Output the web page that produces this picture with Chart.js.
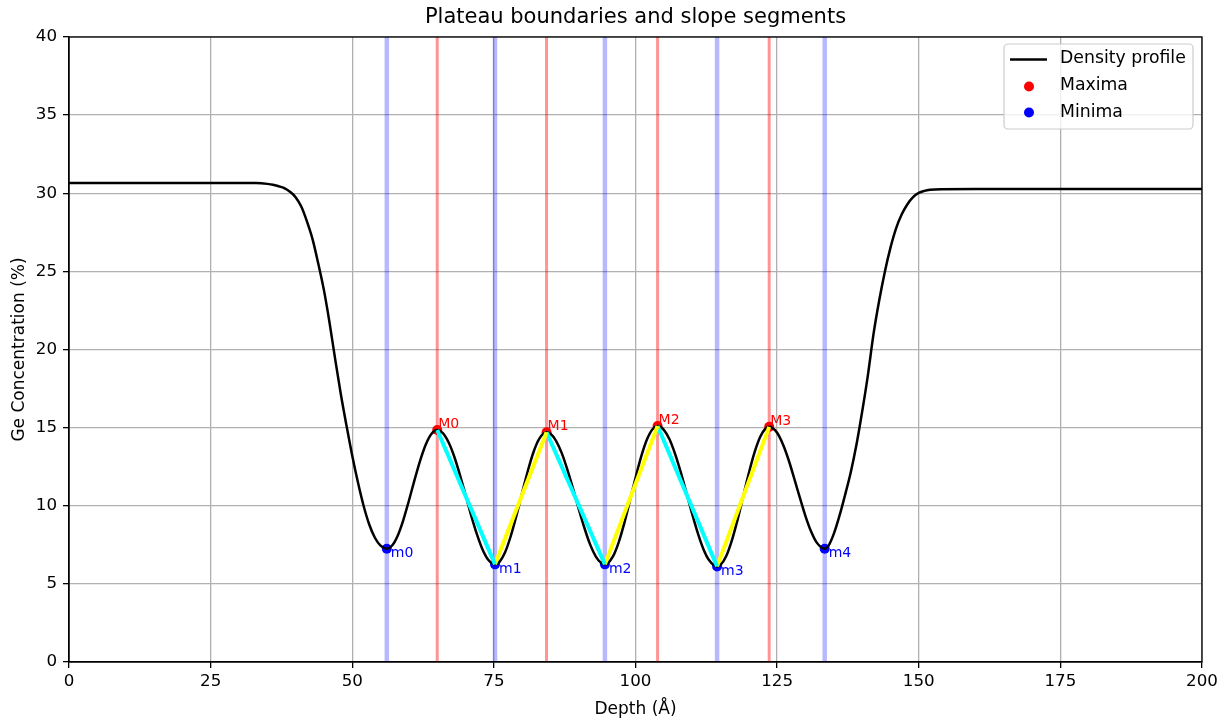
<!DOCTYPE html>
<html lang="en">
<head>
<meta charset="UTF-8">
<title>Plateau boundaries and slope segments</title>
<style>
  body { margin: 0; background: #fff; }
  canvas { display: block; }
</style>
</head>
<body>
<canvas id="chart" width="1231" height="722" style="width:1231px;height:722px"></canvas>
<script src="https://cdn.jsdelivr.net/npm/chart.js"></script>
<script>
  // Density profile (depth in Å, Ge %)
  const depth = [0, 10, 20, 30, 33, 35, 36, 37, 38, 39, 40, 41, 42, 43, 44, 45, 46, 47, 48, 49, 50,
    51, 52, 53, 54, 55, 56.1, 57, 58, 59, 60, 61, 62, 63, 64, 65, 66, 67, 68, 69, 70,
    71, 72, 73, 74, 75.2, 76, 77, 78, 79, 80, 81, 82, 83, 84.3, 85, 86, 87, 88, 89, 90,
    91, 92, 93, 94, 94.6, 95, 96, 97, 98, 99, 100, 101, 102, 103, 103.9, 105, 106, 107, 108, 109, 110,
    111, 112, 113, 114.4, 115, 116, 117, 118, 119, 120, 121, 122, 123, 123.6, 124, 125, 126, 127, 128, 129, 130,
    131, 132, 133.4, 134, 135, 136, 137, 138, 139, 140, 141, 142, 143, 144, 145, 146, 147, 148, 149, 150,
    151, 152, 154, 160, 200];
  const concentration = [30.66, 30.66, 30.66, 30.66, 30.65, 30.6, 30.55, 30.45, 30.33, 30.1, 29.75, 29.15, 28.2, 27.05, 25.5, 23.8, 21.7, 19.35, 17.1, 15.1, 13.2,
    11.5, 10.0, 8.8, 7.95, 7.45, 7.25, 7.44, 8.07, 9.07, 10.32, 11.66, 12.91, 13.94, 14.61, 14.85, 14.65, 14.06, 13.15, 11.98, 10.69,
    9.37, 8.18, 7.2, 6.54, 6.25, 6.41, 7.04, 8.08, 9.39, 10.84, 12.24, 13.44, 14.28, 14.7, 14.61, 14.14, 13.35, 12.28, 11.06, 9.77,
    8.56, 7.51, 6.75, 6.32, 6.25, 6.29, 6.74, 7.63, 8.86, 10.3, 11.78, 13.14, 14.22, 14.9, 15.1, 14.86, 14.25, 13.3, 12.13, 10.81, 9.48,
    8.25, 7.22, 6.51, 6.12, 6.21, 6.77, 7.77, 9.08, 10.59, 12.08, 13.4, 14.4, 14.96, 15.05, 15.02, 14.67, 13.95, 12.96, 11.77, 10.53, 9.34,
    8.35, 7.64, 7.25, 7.4, 8.2, 9.35, 10.7, 12.15, 13.9, 16.0, 18.3, 20.95, 23.1, 24.95, 26.5, 27.75, 28.65, 29.3, 29.75, 30.02,
    30.15, 30.22, 30.26, 30.27, 30.27];

  // extrema
  const maxDepth = [65.0, 84.3, 103.9, 123.6];
  const maxConc = [14.85, 14.7, 15.1, 15.05];
  const maxLabels = ['M0', 'M1', 'M2', 'M3'];
  const minDepth = [56.1, 75.2, 94.6, 114.4, 133.4];
  const minConc = [7.25, 6.25, 6.25, 6.12, 7.25];
  const minLabels = ['m0', 'm1', 'm2', 'm3', 'm4'];

  const xTicks = [0, 25, 50, 75, 100, 125, 150, 175, 200];
  const yTicks = [0, 5, 10, 15, 20, 25, 30, 35, 40];

  const FONT = "'DejaVu Sans', sans-serif";
  Chart.defaults.font.family = FONT;
  Chart.defaults.color = '#000';

  const datasets = [];

  // slope segments: falling (cyan) M_i -> m_i+1, rising (yellow) m_i -> M_i
  for (let i = 0; i < 3; i++) {
    datasets.push({
      data: [{x: maxDepth[i], y: maxConc[i]}, {x: minDepth[i + 1], y: minConc[i + 1]}],
      borderColor: '#00ffff', borderWidth: 4, pointRadius: 0, order: 1
    });
    datasets.push({
      data: [{x: minDepth[i + 1], y: minConc[i + 1]}, {x: maxDepth[i + 1], y: maxConc[i + 1]}],
      borderColor: '#ffff00', borderWidth: 4, pointRadius: 0, order: 1
    });
  }

  datasets.push({
    label: 'Density profile',
    data: depth.map((d, i) => ({x: d, y: concentration[i]})),
    borderColor: '#000', borderWidth: 2.5, pointRadius: 0,
    cubicInterpolationMode: 'monotone', order: 2
  });

  // plateau boundary lines
  minDepth.forEach(d => datasets.push({
    data: [{x: d, y: 0}, {x: d, y: 40}],
    borderColor: 'rgba(0,0,255,0.28)', borderWidth: 4.5, pointRadius: 0, order: 3
  }));
  maxDepth.forEach(d => datasets.push({
    data: [{x: d, y: 0}, {x: d, y: 40}],
    borderColor: 'rgba(255,0,0,0.42)', borderWidth: 3, pointRadius: 0, order: 3
  }));

  datasets.push({
    type: 'scatter', label: 'Maxima',
    data: maxDepth.map((d, i) => ({x: d, y: maxConc[i]})),
    backgroundColor: '#ff0000', borderWidth: 0, pointRadius: 5, order: 4
  });
  datasets.push({
    type: 'scatter', label: 'Minima',
    data: minDepth.map((d, i) => ({x: d, y: minConc[i]})),
    backgroundColor: '#0000ff', borderWidth: 0, pointRadius: 5, order: 4
  });

  /* title, frame, point labels and legend drawn by hand, matplotlib style */
  const extras = {
    id: 'extras',
    afterDatasetsDraw(chart) {
      const ctx = chart.ctx;
      const a = chart.chartArea;
      const xs = chart.scales.x, ys = chart.scales.y;
      ctx.save();
      ctx.font = '14px ' + FONT;
      ctx.textAlign = 'left';
      ctx.fillStyle = '#ff0000';
      ctx.textBaseline = 'alphabetic';
      maxDepth.forEach((d, i) => {
        ctx.fillText(maxLabels[i], xs.getPixelForValue(d) + 1, ys.getPixelForValue(maxConc[i]) - 2);
      });
      ctx.fillStyle = '#0000ff';
      ctx.textBaseline = 'top';
      minDepth.forEach((d, i) => {
        ctx.fillText(minLabels[i], xs.getPixelForValue(d) + 4, ys.getPixelForValue(minConc[i]) - 2);
      });
      ctx.strokeStyle = '#000';
      ctx.lineWidth = 1.3;
      ctx.strokeRect(a.left, a.top, a.right - a.left, a.bottom - a.top);
      ctx.restore();
    },
    afterDraw(chart) {
      const ctx = chart.ctx;
      const a = chart.chartArea;
      ctx.save();
      ctx.fillStyle = '#000';
      ctx.font = '21px ' + FONT;
      ctx.textAlign = 'center';
      ctx.textBaseline = 'middle';
      ctx.fillText('Plateau boundaries and slope segments', (a.left + a.right) / 2, 18);

      // legend box
      const bx = 1004, by = 44, bw = 189, bh = 85;
      ctx.beginPath();
      ctx.roundRect(bx, by, bw, bh, 4);
      ctx.fillStyle = 'rgba(255,255,255,0.8)';
      ctx.fill();
      ctx.strokeStyle = '#cccccc';
      ctx.lineWidth = 1.2;
      ctx.stroke();

      ctx.strokeStyle = '#000';
      ctx.lineWidth = 2.5;
      ctx.beginPath();
      ctx.moveTo(1010, 59.5);
      ctx.lineTo(1047, 59.5);
      ctx.stroke();
      ctx.fillStyle = '#ff0000';
      ctx.beginPath(); ctx.arc(1029, 86.5, 5, 0, Math.PI * 2); ctx.fill();
      ctx.fillStyle = '#0000ff';
      ctx.beginPath(); ctx.arc(1029, 112.5, 5, 0, Math.PI * 2); ctx.fill();

      ctx.fillStyle = '#000';
      ctx.font = '17.3px ' + FONT;
      ctx.textAlign = 'left';
      ctx.textBaseline = 'middle';
      ctx.fillText('Density profile', 1060, 59);
      ctx.fillText('Maxima', 1060, 86);
      ctx.fillText('Minima', 1060, 112.5);
      ctx.restore();
    }
  };

  new Chart(document.getElementById('chart'), {
    type: 'line',
    data: {datasets: datasets},
    options: {
      responsive: false,
      animation: false,
      layout: {padding: {top: 37, right: 29, left: 0, bottom: 0}},
      plugins: {
        legend: {display: false},
        tooltip: {enabled: false},
        title: {display: false}
      },
      scales: {
        x: {
          type: 'linear', min: 0, max: 200,
          afterBuildTicks: s => { s.ticks = xTicks.map(v => ({value: v})); },
          afterFit: s => { s.height = 60; },
          ticks: {color: '#000', font: {size: 16.7}, padding: 4, maxRotation: 0},
          grid: {color: '#b0b0b0', lineWidth: 1.3, tickColor: '#000', tickLength: 6, tickWidth: 1.3},
          border: {color: '#000', width: 1.3},
          title: {display: true, text: 'Depth (Å)', color: '#000', font: {size: 17}, padding: {top: 0, bottom: 2}}
        },
        y: {
          type: 'linear', min: 0, max: 40,
          afterBuildTicks: s => { s.ticks = yTicks.map(v => ({value: v})); },
          afterFit: s => { s.width = 69; },
          ticks: {color: '#000', font: {size: 16.7}, padding: 6},
          grid: {color: '#b0b0b0', lineWidth: 1.3, tickColor: '#000', tickLength: 6, tickWidth: 1.3},
          border: {color: '#000', width: 1.3},
          title: {display: true, text: 'Ge Concentration (%)', color: '#000', font: {size: 17}, padding: {top: 9, bottom: 0}}
        }
      }
    },
    plugins: [extras]
  });
</script>
</body>
</html>
